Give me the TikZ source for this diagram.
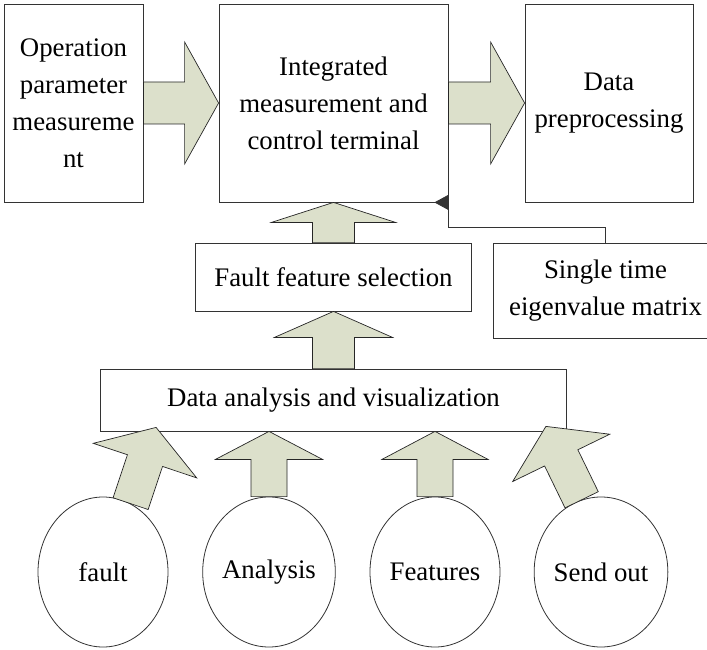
\documentclass[tikz,border=0pt]{standalone}
\usepackage{fontspec}
\setmainfont{Liberation Serif}
\usetikzlibrary{positioning,calc,shapes.geometric,arrows.meta}

\definecolor{arrowfill}{RGB}{220,224,203}

\tikzset{
  block/.style={draw=black!80, line width=0.8pt, fill=white, align=center, inner sep=0pt,
    font=\fontsize{26.8}{37}\selectfont},
  source/.style={ellipse, draw=black!80, line width=0.8pt, minimum width=130pt,
    minimum height=150pt, inner sep=0pt, font=\fontsize{26.8}{37}\selectfont},
  fat/.style={draw=black!85, line width=0.7pt, fill=arrowfill, line join=miter},
  conn/.style={draw=black!80, line width=0.8pt}
}

% base, tip, half shaft, half head, head length
\newcommand\fatarrow[5]{%
  \coordinate (fa-h) at ($(#2)!#5!(#1)$);
  \draw[fat] ($(#1)!#3!90:(#2)$) -- ($(fa-h)!#3!90:(#2)$) -- ($(fa-h)!#4!90:(#2)$)
    -- (#2) -- ($(fa-h)!#4!-90:(#2)$) -- ($(fa-h)!#3!-90:(#2)$) -- ($(#1)!#3!-90:(#2)$) -- cycle;
}

\begin{document}
\begin{tikzpicture}[x=1pt,y=1pt,on grid,node distance=166pt]
\useasboundingbox (0,0) rectangle (707,-650);

\node[block, minimum width=139pt, minimum height=198pt] (op) at (73.5,-103) {Operation\\parameter\\measureme\\nt};
\node[block, minimum width=229pt, minimum height=198pt, right=260pt of op] (term) {Integrated\\measurement and\\control terminal};
\node[block, minimum width=168pt, minimum height=198pt, right=275.5pt of term] (prep) {Data\\preprocessing};

\node[block, minimum width=276pt, minimum height=68pt, below=174pt of term] (sel) {Fault feature selection};
\node[block, minimum width=225pt, minimum height=95pt] (sing) at (605.5,-290.5) {Single time\\eigenvalue matrix};
\node[block, minimum width=466pt, minimum height=62pt, below=123pt of sel] (ana) {Data analysis and visualization};

\node[source] (fault) at (103,-572) {fault};
\node[source, right=of fault] (anl) {Analysis};
\node[source, right=of anl] (feat) {Features};
\node[source, right=of feat] (send) {Send out};

% feedback line into the terminal
\coordinate (bend) at ($(term.south east)+(0,-25)$);
\draw[conn, -{Triangle[length=14pt,width=15pt]}] (sing.north) |- (bend) -- (term.south east) -- ([xshift=-14pt]term.south east);

% block arrows
\fatarrow{op.east}{term.west}{21pt}{61pt}{34pt}
\fatarrow{term.east}{prep.west}{21pt}{61pt}{34pt}
\fatarrow{sel.north}{term.south}{21pt}{62pt}{20pt}
\fatarrow{ana.north}{sel.south}{21pt}{59pt}{26pt}

\coordinate (t1) at ($(ana.south west)+(56,4)$);
\coordinate (t2) at (anl.north |- ana.south);
\coordinate (t3) at (feat.north |- ana.south);
\coordinate (t4) at ($(ana.south east)+(-21,5)$);
\fatarrow{fault.68}{t1}{18.5pt}{54.5pt}{35pt}
\fatarrow{anl.north}{t2}{18pt}{53.5pt}{28pt}
\fatarrow{feat.north}{t3}{18pt}{53pt}{28pt}
\fatarrow{send.105}{t4}{18.5pt}{54pt}{35pt}
\end{tikzpicture}
\end{document}
